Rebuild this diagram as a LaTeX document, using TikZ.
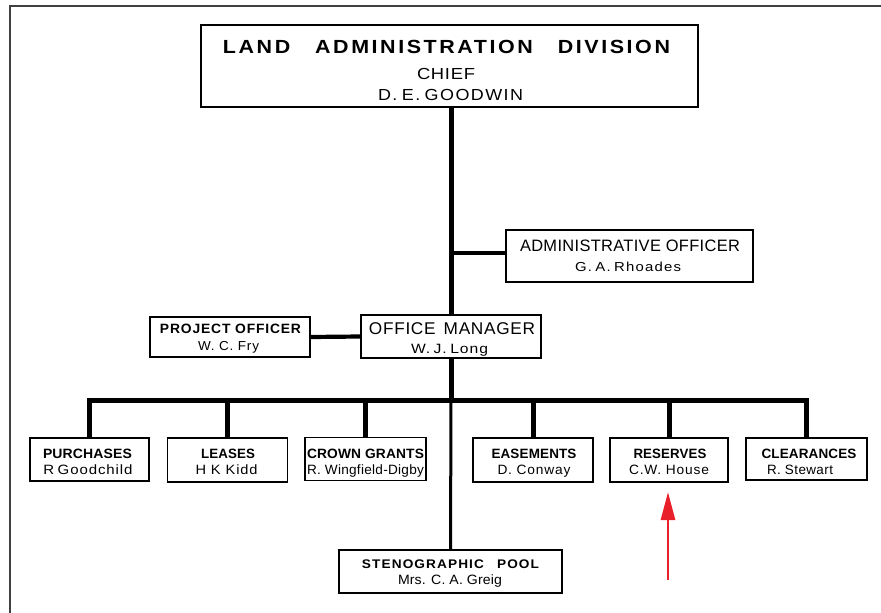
\documentclass[tikz,border=0pt]{standalone}
\usepackage{fontspec}
\setmainfont{Liberation Sans}
\usetikzlibrary{arrows.meta}
\definecolor{arrowred}{HTML}{E8202A}
\definecolor{framegray}{HTML}{404040}
% fit text to a width (pt), keeping its height, with tracking #2
\newcommand\fitw[3]{\resizebox{#1pt}{\height}{\addfontfeatures{LetterSpace=#2}#3}}
\begin{document}
\begin{tikzpicture}[x=1pt,y=-1pt,
  box/.style={draw, line width=1.8pt, inner sep=0pt},
  lbl/.style={anchor=base, inner sep=0pt},
  bigline/.style={line width=5pt, line join=miter},
  midline/.style={line width=4.2pt},
  thinline/.style={line width=3pt},
  framestyle/.style={draw=framegray, line width=2pt},
  redarrow/.style={draw=arrowred, line width=2.8pt, -{Triangle[length=28pt,width=14pt]}}]
\useasboundingbox (0,0) rectangle (881,613);
% outer frame
\coordinate (frTR) at (881,6);
\coordinate (frTL) at (10,6);
\coordinate (frBL) at (10,613);
\draw[framestyle] (frTR) -- (frTL) -- (frBL);

% boxes
\node[box, minimum width=497pt, minimum height=82pt] (top) at (449.5,66) {};
\node[box, minimum width=247pt, minimum height=52pt] (admin) at (629.5,256) {};
\node[box, minimum width=160pt, minimum height=40pt] (proj) at (230,337) {};
\node[box, minimum width=180pt, minimum height=43pt] (om) at (451,336.5) {};
\node[box, minimum width=119pt, minimum height=43pt] (purch) at (89.5,459.5) {};
\node[box, minimum width=120pt, minimum height=44pt] (leases) at (227.5,460) {};
\node[box, minimum width=121pt, minimum height=43pt] (crown) at (365.5,459) {};
\node[box, minimum width=120pt, minimum height=44pt] (ease) at (533,460) {};
\node[box, minimum width=118pt, minimum height=44pt] (res) at (669,460) {};
\node[box, minimum width=121pt, minimum height=42pt] (clear) at (806.5,459) {};
\node[box, minimum width=223pt, minimum height=43pt] (steno) at (450.5,571.5) {};

% texts
\node[lbl, font=\bfseries\fontsize{19}{19}\selectfont] (tTitle) at (446.5,53)
  {\fitw{447}{12}{LAND\hspace{22pt}ADMINISTRATION\hspace{22pt}DIVISION}};
\node[lbl, font=\fontsize{16}{16}\selectfont] (tChief) at (446,79) {\fitw{58}{4}{CHIEF}};
\node[lbl, font=\fontsize{16}{16}\selectfont] (tGood) at (450.5,100) {\fitw{145}{8}{D.\hspace{4pt}E.\hspace{4pt}GOODWIN}};

\node[lbl, font=\fontsize{16.5}{16.5}\selectfont] (tAdmin) at (630,251.5) {\fitw{220}{2}{ADMINISTRATIVE OFFICER}};
\node[lbl, font=\fontsize{13}{13}\selectfont] (tRhoades) at (628,271) {\fitw{106}{8}{G.\hspace{3pt}A.\hspace{3pt}Rhoades}};

\node[lbl, font=\bfseries\fontsize{13.5}{13.5}\selectfont] (tProj) at (230.5,333.5) {\fitw{141}{6}{PROJECT OFFICER}};
\node[lbl, font=\fontsize{13}{13}\selectfont] (tFry) at (228.5,350.7) {\fitw{61}{6}{W. C. Fry}};

\node[lbl, font=\fontsize{17}{17}\selectfont] (tOM) at (452,334) {\fitw{166}{4}{OFFICE\hspace{8pt}MANAGER}};
\node[lbl, font=\fontsize{13.5}{13.5}\selectfont] (tLong) at (449.5,353.5) {\fitw{77}{6}{W.\hspace{3pt}J.\hspace{3pt}Long}};

\node[lbl, font=\bfseries\fontsize{13.5}{13.5}\selectfont] (tPurch) at (87.5,458.5) {\fitw{89}{1}{PURCHASES}};
\node[lbl, font=\fontsize{13.5}{13.5}\selectfont] (tGoodchild) at (88,474.5) {\fitw{89}{6}{R\hspace{3pt}Goodchild}};
\node[lbl, font=\bfseries\fontsize{13.5}{13.5}\selectfont] (tLeases) at (228,458.5) {\fitw{54}{1}{LEASES}};
\node[lbl, font=\fontsize{13.5}{13.5}\selectfont] (tKidd) at (226.5,474.5) {\fitw{62}{6}{H K Kidd}};
\node[lbl, font=\bfseries\fontsize{13.5}{13.5}\selectfont] (tCrown) at (365.5,458.5) {\fitw{117}{1}{CROWN GRANTS}};
\node[lbl, font=\fontsize{13.5}{13.5}\selectfont] (tWing) at (365.5,474.5) {\fitw{117}{2}{R. Wingfield-Digby}};
\node[lbl, font=\bfseries\fontsize{13.5}{13.5}\selectfont] (tEase) at (534,458.5) {\fitw{85}{1}{EASEMENTS}};
\node[lbl, font=\fontsize{13.5}{13.5}\selectfont] (tConway) at (534,474.5) {\fitw{73}{6}{D. Conway}};
\node[lbl, font=\bfseries\fontsize{13.5}{13.5}\selectfont] (tRes) at (670,458.5) {\fitw{73}{1}{RESERVES}};
\node[lbl, font=\fontsize{13.5}{13.5}\selectfont] (tHouse) at (669,474.5) {\fitw{80}{6}{C.W. House}};
\node[lbl, font=\bfseries\fontsize{13.5}{13.5}\selectfont] (tClear) at (809,458.5) {\fitw{95}{1}{CLEARANCES}};
\node[lbl, font=\fontsize{13.5}{13.5}\selectfont] (tStewart) at (800,474.5) {\fitw{66}{3}{R. Stewart}};

\node[lbl, font=\bfseries\fontsize{12.5}{12.5}\selectfont] (tSteno) at (450.5,568.7) {\fitw{177}{8}{STENOGRAPHIC\hspace{12pt}POOL}};
\node[lbl, font=\fontsize{13.5}{13.5}\selectfont] (tGreig) at (450,584.3) {\fitw{104}{1}{Mrs. C. A. Greig}};

% connectors
\coordinate (bar) at (0,400);
\draw[bigline] (top.south -| om.north) -- (om.north);
\draw[midline] (om.north |- 0,253) -- (admin.west |- 0,253);
\draw[midline] (proj.east) -- (om.west);
\draw[bigline] (om.south) -- (om.south |- bar);
\draw[bigline] (purch.north) -- (purch.north |- bar) -- (clear.north |- bar) -- (clear.north);
\foreach \n in {leases,crown,ease,res} {
  \draw[bigline] (\n.north) -- (\n.north |- bar);
}
\draw[thinline] (om.south |- bar) -- (steno.north);

% red arrow
\coordinate (arrS) at (668,580);
\coordinate (arrE) at (668,492);
\draw[redarrow] (arrS) -- (arrE);
\end{tikzpicture}
\end{document}
